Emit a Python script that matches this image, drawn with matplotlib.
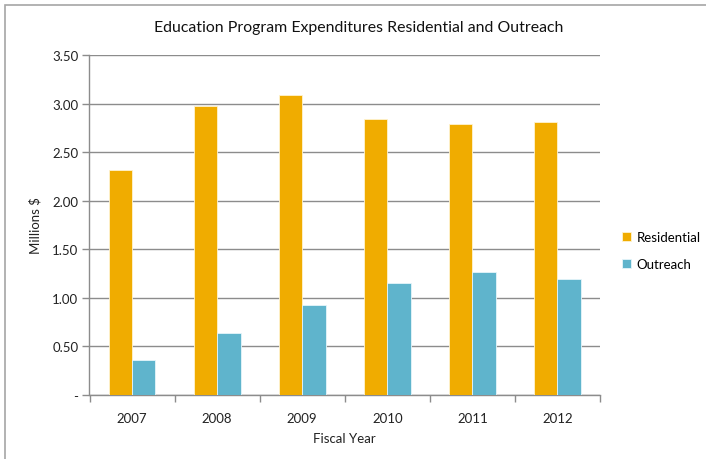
import numpy as np
import matplotlib.pyplot as plt
from matplotlib.patches import Rectangle
from matplotlib.ticker import FixedLocator, NullFormatter

# Expenditures in millions of dollars by fiscal year
years = ["2007", "2008", "2009", "2010", "2011", "2012"]
residential = [2.32, 2.98, 3.09, 2.84, 2.79, 2.81]
outreach = [0.36, 0.64, 0.93, 1.15, 1.27, 1.19]
y_ticks = [0, 0.5, 1.0, 1.5, 2.0, 2.5, 3.0, 3.5]
y_labels = ["-", "0.50", "1.00", "1.50", "2.00", "2.50", "3.00", "3.50"]

ORANGE = "#F0AC00"
BLUE = "#5FB4CC"
GRID = "#8C8C8C"
TEXT = "#222222"

plt.rcParams["font.family"] = ["Lato", "DejaVu Sans"]

W, H = 706, 460
fig = plt.figure(figsize=(W / 100, H / 100), dpi=100)
ax = fig.add_axes([89.5 / W, 1 - 396 / H, (600 - 89.5) / W, 340 / H])

# chart area frame (right and bottom edges run past the image)
fig.patches.append(Rectangle((5 / W, -0.1), 1.2, 1.1 - 6 / H,
                             transform=fig.transFigure, fill=False,
                             edgecolor="#A6A6A6", linewidth=1.2))

x = np.arange(len(years))
bw = 0.275
ax.bar(x - bw / 2, residential, bw, color=ORANGE, edgecolor="#FFF3D0",
       linewidth=0.6, label="Residential", zorder=3)
ax.bar(x + bw / 2, outreach, bw, color=BLUE, edgecolor="#E6F5FA",
       linewidth=0.6, label="Outreach", zorder=3)

ax.set_xlim(-0.5, len(years) - 0.5)
ax.set_ylim(0, 3.5)
ax.set_yticks(y_ticks)
ax.set_yticklabels(y_labels)
ax.yaxis.grid(True, color=GRID, linewidth=1.0, zorder=0)
ax.set_axisbelow(True)

ax.set_xticks(x)
ax.set_xticklabels(years)
ax.xaxis.set_minor_locator(FixedLocator(np.arange(-0.5, len(years), 1.0)))
ax.xaxis.set_minor_formatter(NullFormatter())
ax.tick_params(axis="x", which="major", length=0, pad=12, labelsize=9.5, colors=TEXT)
ax.tick_params(axis="x", which="minor", length=5, width=1, color=GRID)
ax.tick_params(axis="y", length=5, width=1, color=GRID, pad=3, labelsize=9.5,
               labelcolor=TEXT)

for side in ("top", "right"):
    ax.spines[side].set_visible(False)
for side in ("left", "bottom"):
    ax.spines[side].set_color(GRID)
    ax.spines[side].set_linewidth(1.0)

ax.set_xlabel("Fiscal Year", fontsize=9.5, color=TEXT, labelpad=6)
ax.set_ylabel("Millions $", fontsize=9.5, color=TEXT, labelpad=8)
fig.text(359 / W, 1 - 28 / H, "Education Program Expenditures Residential and Outreach",
         fontsize=11.4, color="#111111", ha="center", va="center")

ax.legend(loc="center left", bbox_to_anchor=(1.02, 0.425), frameon=False,
          fontsize=9.5, handlelength=0.7, handleheight=0.7, handletextpad=0.4,
          labelspacing=1.1)

fig.savefig("out.png", dpi=100)
